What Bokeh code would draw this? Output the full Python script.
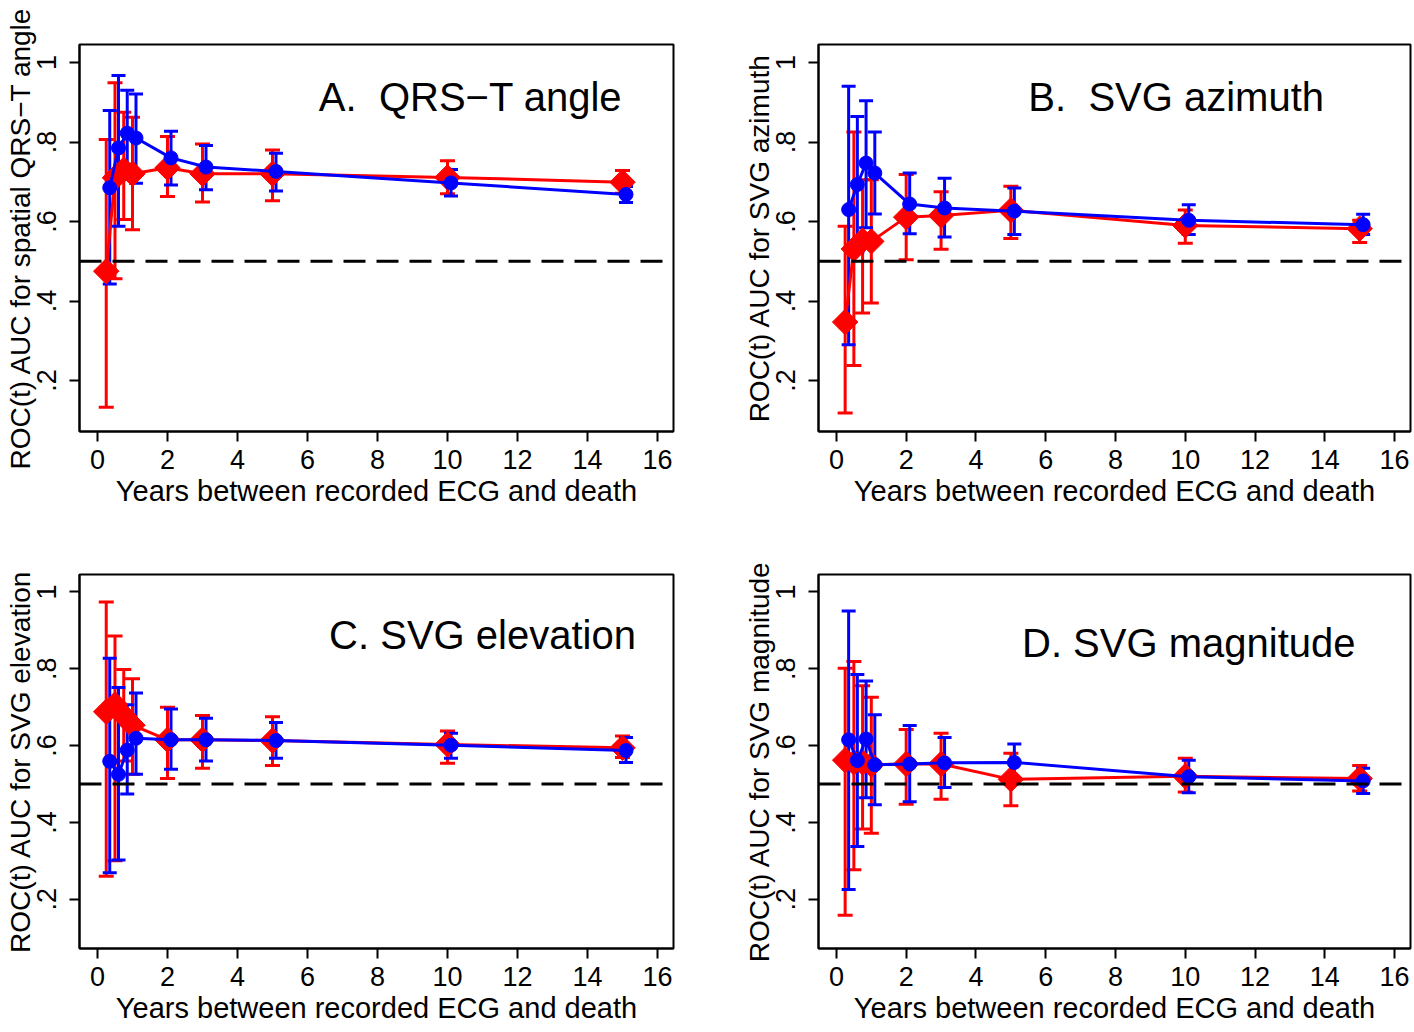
import math
from bokeh.plotting import figure
from bokeh.models import (Whisker, TeeHead, ColumnDataSource, Span, Label,
                          FixedTicker, CustomJSTickFormatter, Range1d)
from bokeh.layouts import column, row
from bokeh.embed import file_html
from bokeh.resources import INLINE

# ---- data -------------------------------------------------------------
t_red = [0.25, 0.5, 0.75, 1, 2, 3, 5, 10, 15]
t_blue = [0.35, 0.6, 0.85, 1.1, 2.1, 3.1, 5.1, 10.1, 15.1]

x_ticks = [0, 2, 4, 6, 8, 10, 12, 14, 16]
y_ticks = [0.2, 0.4, 0.6, 0.8, 1.0]

titles = ["A.\u00a0 QRS\u2212T angle", "B.\u00a0 SVG azimuth", "C. SVG elevation", "D. SVG magnitude"]
y_labels = ["ROC(t) AUC for spatial QRS\u2212T angle", "ROC(t) AUC for SVG azimuth",
            "ROC(t) AUC for SVG elevation", "ROC(t) AUC for SVG magnitude"]
x_label = "Years between recorded ECG and death"

# Panel A
A_red = [0.475, 0.71, 0.73, 0.72, 0.735, 0.72, 0.72, 0.711, 0.699]
A_red_lo = [0.133, 0.456, 0.605, 0.579, 0.663, 0.649, 0.652, 0.67, 0.671]
A_red_hi = [0.806, 0.949, 0.875, 0.862, 0.814, 0.795, 0.78, 0.753, 0.728]
A_blue = [0.685, 0.785, 0.822, 0.81, 0.76, 0.737, 0.726, 0.697, 0.668]
A_blue_lo = [0.443, 0.588, 0.716, 0.696, 0.692, 0.68, 0.677, 0.664, 0.648]
A_blue_hi = [0.879, 0.967, 0.93, 0.921, 0.827, 0.791, 0.772, 0.731, 0.688]

# Panel B
B_red = [0.347, 0.531, 0.552, 0.55, 0.611, 0.615, 0.628, 0.59, 0.582]
B_red_lo = [0.118, 0.238, 0.37, 0.395, 0.504, 0.53, 0.557, 0.545, 0.547]
B_red_hi = [0.588, 0.825, 0.705, 0.705, 0.718, 0.675, 0.689, 0.629, 0.603]
B_blue = [0.63, 0.693, 0.747, 0.722, 0.644, 0.634, 0.626, 0.603, 0.592]
B_blue_lo = [0.29, 0.523, 0.584, 0.619, 0.569, 0.561, 0.567, 0.567, 0.567]
B_blue_hi = [0.94, 0.864, 0.904, 0.825, 0.722, 0.709, 0.684, 0.642, 0.618]

# Panel C
C_red = [0.688, 0.707, 0.678, 0.653, 0.615, 0.615, 0.613, 0.603, 0.594]
C_red_lo = [0.26, 0.30, 0.56, 0.525, 0.514, 0.541, 0.548, 0.554, 0.569]
C_red_hi = [0.974, 0.885, 0.798, 0.774, 0.70, 0.678, 0.675, 0.638, 0.625]
C_blue = [0.559, 0.525, 0.588, 0.619, 0.615, 0.615, 0.613, 0.601, 0.587]
C_blue_lo = [0.269, 0.302, 0.474, 0.525, 0.538, 0.56, 0.567, 0.567, 0.556]
C_blue_hi = [0.827, 0.751, 0.706, 0.737, 0.695, 0.671, 0.66, 0.632, 0.621]

# Panel D
D_red = [0.562, 0.556, 0.556, 0.55, 0.552, 0.552, 0.512, 0.52, 0.514]
D_red_lo = [0.158, 0.277, 0.383, 0.372, 0.447, 0.46, 0.443, 0.479, 0.482]
D_red_hi = [0.801, 0.819, 0.756, 0.726, 0.642, 0.632, 0.58, 0.567, 0.548]
D_blue = [0.615, 0.561, 0.617, 0.55, 0.552, 0.555, 0.556, 0.519, 0.508]
D_blue_lo = [0.225, 0.337, 0.464, 0.446, 0.454, 0.491, 0.509, 0.477, 0.475]
D_blue_hi = [0.95, 0.785, 0.768, 0.68, 0.652, 0.621, 0.604, 0.562, 0.541]

panels = [
    (A_red, A_red_lo, A_red_hi, A_blue, A_blue_lo, A_blue_hi),
    (B_red, B_red_lo, B_red_hi, B_blue, B_blue_lo, B_blue_hi),
    (C_red, C_red_lo, C_red_hi, C_blue, C_blue_lo, C_blue_hi),
    (D_red, D_red_lo, D_red_hi, D_blue, D_blue_lo, D_blue_hi),
]
title_pos = [(10.66, 0.912), (9.74, 0.912), (11.0, 0.887), (10.1, 0.867)]

FONT = "Liberation Sans"
RED = "#ff0000"
BLUE = "#0000ff"

# layout geometry (pixels)
geom = [
    dict(width=739, height=530, left=79, right=66, top=44, bottom=99),
    dict(width=673, height=530, left=79, right=2, top=44, bottom=99),
    dict(width=739, height=500, left=79, right=66, top=44, bottom=82),
    dict(width=673, height=500, left=79, right=2, top=44, bottom=82),
]


def make_panel(i):
    g = geom[i]
    red, red_lo, red_hi, blue, blue_lo, blue_hi = panels[i]
    p = figure(width=g["width"], height=g["height"], output_backend="svg",
               toolbar_location=None, x_range=Range1d(-0.514, 16.457),
               y_range=Range1d(0.0717, 1.0453),
               min_border_left=g["left"], min_border_right=g["right"],
               min_border_top=g["top"], min_border_bottom=g["bottom"])
    p.background_fill_color = "white"
    p.border_fill_color = "white"
    p.outline_line_color = "black"
    p.outline_line_width = 2
    p.grid.visible = False

    for ax in (p.xaxis[0], p.yaxis[0]):
        ax.axis_line_width = 2
        ax.axis_line_color = "black"
        ax.major_tick_line_width = 2
        ax.major_tick_line_color = "black"
        ax.major_tick_out = 10
        ax.major_tick_in = 0
        ax.minor_tick_line_color = None
        ax.major_label_text_font = FONT
        ax.major_label_text_font_size = "27px"
        ax.major_label_text_color = "black"
        ax.axis_label_text_font = FONT
        ax.axis_label_text_font_style = "normal"
        ax.axis_label_text_color = "black"

    p.xaxis.ticker = FixedTicker(ticks=x_ticks)
    p.xaxis.major_label_standoff = 8
    p.xaxis.axis_label_standoff = 3
    p.xaxis.axis_label = x_label
    p.xaxis.axis_label_text_font_size = "29px"

    p.yaxis.ticker = FixedTicker(ticks=y_ticks)
    p.yaxis.formatter = CustomJSTickFormatter(
        code="return tick >= 0.999 ? '1' : tick.toFixed(1).replace(/^0/, '');")
    p.yaxis.major_label_orientation = "vertical"
    p.yaxis.major_label_standoff = 13
    p.yaxis.axis_label_standoff = -1
    p.yaxis.axis_label = y_labels[i]
    p.yaxis.axis_label_text_font_size = "28px"

    p.add_layout(Span(location=0.5, dimension="width", line_color="black",
                      line_width=3, line_dash="22 11"))

    src_r = ColumnDataSource(dict(t=t_red, auc=red, lo=red_lo, hi=red_hi))
    src_b = ColumnDataSource(dict(t=t_blue, auc=blue, lo=blue_lo, hi=blue_hi))

    p.add_layout(Whisker(source=src_r, base="t", upper="hi", lower="lo",
                         line_color=RED, line_width=3,
                         upper_head=TeeHead(size=15, line_color=RED, line_width=3),
                         lower_head=TeeHead(size=15, line_color=RED, line_width=3)))
    p.line("t", "auc", source=src_r, line_color=RED, line_width=3)
    p.scatter("t", "auc", source=src_r, marker="square", size=18, angle=math.pi / 4,
              fill_color=RED, line_color=RED)

    p.add_layout(Whisker(source=src_b, base="t", upper="hi", lower="lo",
                         line_color=BLUE, line_width=3,
                         upper_head=TeeHead(size=14, line_color=BLUE, line_width=3),
                         lower_head=TeeHead(size=14, line_color=BLUE, line_width=3)))
    p.line("t", "auc", source=src_b, line_color=BLUE, line_width=3)
    p.scatter("t", "auc", source=src_b, marker="circle", size=14,
              fill_color=BLUE, line_color=BLUE)

    tx, ty = title_pos[i]
    p.add_layout(Label(x=tx, y=ty, text=titles[i], text_font=FONT,
                       text_font_size="40px", text_color="black",
                       text_align="center", text_baseline="middle"))
    return p


figs = [make_panel(i) for i in range(4)]
layout = column(row(figs[0], figs[1]), row(figs[2], figs[3]))

open("out.html", "w").write(file_html(layout, INLINE))
